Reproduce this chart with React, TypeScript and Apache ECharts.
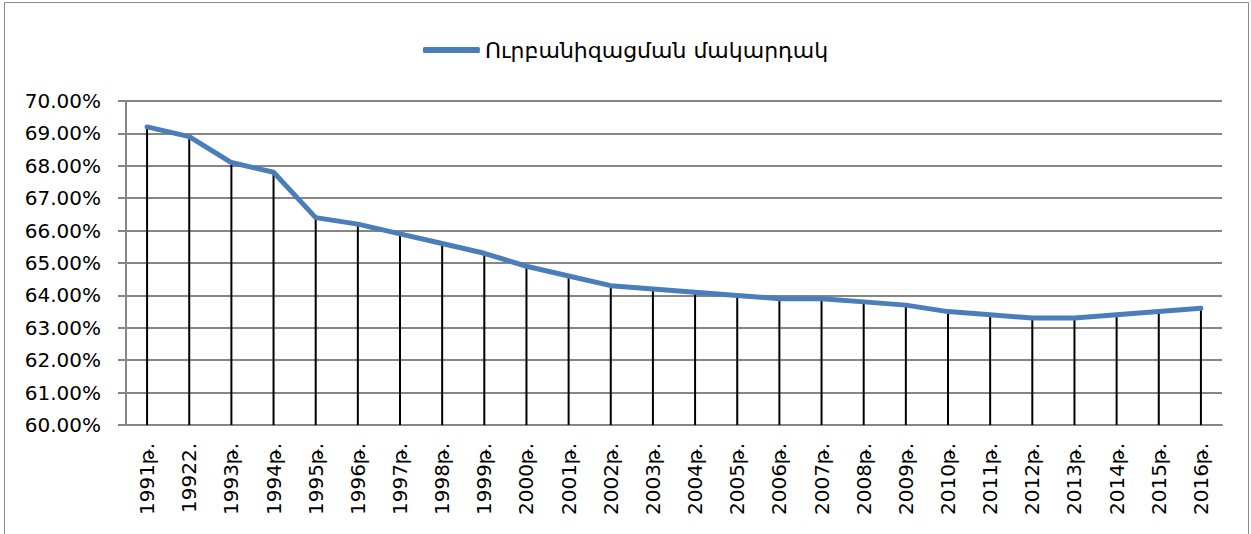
import React, { useEffect, useRef } from "react";
import * as echarts from "echarts";

const years = [
  "1991թ.", "19922.", "1993թ.", "1994թ.", "1995թ.", "1996թ.", "1997թ.", "1998թ.", "1999թ.",
  "2000թ.", "2001թ.", "2002թ.", "2003թ.", "2004թ.", "2005թ.", "2006թ.", "2007թ.", "2008թ.",
  "2009թ.", "2010թ.", "2011թ.", "2012թ.", "2013թ.", "2014թ.", "2015թ.", "2016թ.",
];
const urbanization = [
  69.2, 68.9, 68.1, 67.8, 66.4, 66.2, 65.9, 65.6, 65.3, 64.9, 64.6, 64.3, 64.2,
  64.1, 64.0, 63.9, 63.9, 63.8, 63.7, 63.5, 63.4, 63.3, 63.3, 63.4, 63.5, 63.6,
];
const seriesName = "Ուրբանիզացման մակարդակ";
const yMin = 60;
const yMax = 70;

export default function App() {
  const ref = useRef<HTMLDivElement>(null);
  useEffect(() => {
    if (!ref.current) return;
    const chart = echarts.init(ref.current, null, { renderer: "svg" });
    const font = "DejaVu Sans";
    chart.setOption({
      animation: false,
      backgroundColor: "#ffffff",
      textStyle: { fontFamily: font },
      graphic: [
        {
          type: "rect",
          shape: { x: 4.5, y: 2.5, width: 1244, height: 560 },
          style: { fill: "none", stroke: "#8a8a8a", lineWidth: 1 },
          silent: true,
        },
      ],
      legend: {
        top: 34,
        left: "center",
        icon: "roundRect",
        itemWidth: 57,
        itemHeight: 6,
        itemGap: 4,
        textStyle: { fontFamily: font, fontSize: 22, color: "#000" },
        data: [seriesName],
      },
      grid: { left: 126, right: 29, top: 101, bottom: 109, containLabel: false },
      xAxis: {
        type: "category",
        data: years,
        boundaryGap: true,
        axisLine: { lineStyle: { color: "#868686", width: 2 } },
        axisTick: { show: false },
        axisLabel: {
          rotate: 90,
          margin: 18,
          interval: 0,
          fontFamily: font,
          fontSize: 20,
          color: "#000",
        },
      },
      yAxis: {
        type: "value",
        min: yMin,
        max: yMax,
        interval: 1,
        axisLine: { show: true, lineStyle: { color: "#868686", width: 2 } },
        axisTick: { show: true, length: 8, lineStyle: { color: "#868686", width: 2 } },
        splitLine: { lineStyle: { color: "#868686", width: 2 } },
        axisLabel: {
          margin: 25,
          fontFamily: font,
          fontSize: 20,
          color: "#000",
          formatter: (v: number) => v.toFixed(2) + "%",
        },
      },
      series: [
        {
          type: "custom",
          silent: true,
          z: 1,
          data: urbanization.map((v, i) => [i, v]),
          renderItem: (params: any, api: any) => {
            const top = api.coord([api.value(0), api.value(1)]);
            const bottom = api.coord([api.value(0), yMin]);
            return {
              type: "line",
              shape: { x1: top[0], y1: top[1], x2: bottom[0], y2: bottom[1] },
              style: { stroke: "#000", lineWidth: 2 },
            };
          },
        },
        {
          name: seriesName,
          type: "line",
          data: urbanization,
          z: 3,
          symbol: "none",
          showSymbol: false,
          lineStyle: { color: "#4A7EBB", width: 5, cap: "round", join: "round" },
          itemStyle: { color: "#4A7EBB" },
        },
      ],
    });
    return () => chart.dispose();
  }, []);
  return (
    <div
      ref={ref}
      style={{ position: "absolute", left: 0, top: 0, width: 1251, height: 534 }}
    />
  );
}
